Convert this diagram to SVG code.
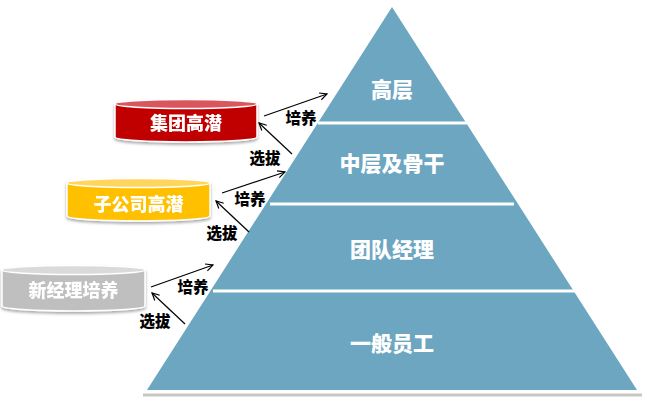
<svg xmlns="http://www.w3.org/2000/svg" width="656" height="406" viewBox="0 0 656 406">
<defs>
<marker id="ah" viewBox="0 0 10 10" refX="9" refY="5" markerWidth="9" markerHeight="9" markerUnits="userSpaceOnUse" orient="auto">
<path d="M1,1 L9,5 L1,9" fill="none" stroke="#000" stroke-width="1.3"/>
</marker>
<filter id="sh" x="-10%" y="-20%" width="120%" height="150%">
<feGaussianBlur in="SourceAlpha" stdDeviation="1.5"/>
<feOffset dx="0" dy="2" result="b"/>
<feComponentTransfer><feFuncA type="linear" slope="0.35"/></feComponentTransfer>
<feMerge><feMergeNode/><feMergeNode in="SourceGraphic"/></feMerge>
</filter>
</defs>
<style>
.lvl{font-family:"Noto Sans CJK SC","Liberation Sans",sans-serif;font-weight:900;font-size:21px;fill:#fff;text-anchor:middle;dominant-baseline:central}
.cyl{font-family:"Noto Sans CJK SC","Liberation Sans",sans-serif;font-weight:900;font-size:18px;fill:#fff;text-anchor:middle;dominant-baseline:central}
.lab{font-family:"Noto Sans CJK SC","Liberation Sans",sans-serif;font-weight:900;font-size:15.5px;fill:#000;text-anchor:middle;dominant-baseline:central}
.sep{stroke:#fff;stroke-width:3}
.con{stroke:#000;stroke-width:1.2;fill:none;marker-end:url(#ah)}
.rim{stroke:#fff;stroke-width:1.5}
</style>
<rect width="656" height="406" fill="#fff"/>
<g id="pyramid">
<line x1="143" y1="395" x2="642" y2="395" stroke="#c8c8c8" stroke-width="3"/>
<polygon points="392,7 147,390 637,390" fill="#6CA6C1"/>
<line class="sep" x1="318" y1="123" x2="467" y2="123"/>
<line class="sep" x1="270" y1="204" x2="514" y2="204"/>
<line class="sep" x1="213" y1="291" x2="575" y2="291"/>
</g>
<g id="level-top"><text class="lvl" x="392" y="88">高层</text></g>
<g id="level-middle"><text class="lvl" x="392" y="162">中层及骨干</text></g>
<g id="level-team"><text class="lvl" x="392" y="248">团队经理</text></g>
<g id="level-staff"><text class="lvl" x="392" y="342">一般员工</text></g>
<g id="cyl-group" filter="url(#sh)">
<path class="rim" d="M115,104 L115,137 A71,5 0 0 0 257,137 L257,104 Z" fill="#C00000"/>
<ellipse class="rim" cx="186" cy="104" rx="71" ry="4.5" fill="#D9575E"/>
<text class="cyl" x="186" y="122">集团高潜</text>
</g>
<g id="cyl-sub" filter="url(#sh)">
<path class="rim" d="M67,183 L67,216 A71.5,5 0 0 0 210,216 L210,183 Z" fill="#FFC000"/>
<ellipse class="rim" cx="138.5" cy="183" rx="71.5" ry="4.5" fill="#FFD55C"/>
<text class="cyl" x="138.5" y="203">子公司高潜</text>
</g>
<g id="cyl-new" filter="url(#sh)">
<path class="rim" d="M2,270 L2,306 A71.5,5 0 0 0 145,306 L145,270 Z" fill="#BFBFBF"/>
<ellipse class="rim" cx="73.5" cy="270" rx="71.5" ry="4.5" fill="#DADADA"/>
<text class="cyl" x="73.5" y="289">新经理培养</text>
</g>
<g id="connectors">
<line class="con" x1="264" y1="116" x2="327" y2="94"/>
<line class="con" x1="292" y1="154" x2="259" y2="123"/>
<line class="con" x1="222" y1="193" x2="285" y2="172"/>
<line class="con" x1="249" y1="232" x2="216" y2="201"/>
<line class="con" x1="151" y1="287" x2="213" y2="265"/>
<line class="con" x1="185" y1="324" x2="152" y2="293"/>
<text class="lab" x="301" y="117">培养</text>
<text class="lab" x="265" y="157">选拔</text>
<text class="lab" x="250" y="198">培养</text>
<text class="lab" x="222" y="232">选拔</text>
<text class="lab" x="193" y="286">培养</text>
<text class="lab" x="155" y="320">选拔</text>
</g>
</svg>
